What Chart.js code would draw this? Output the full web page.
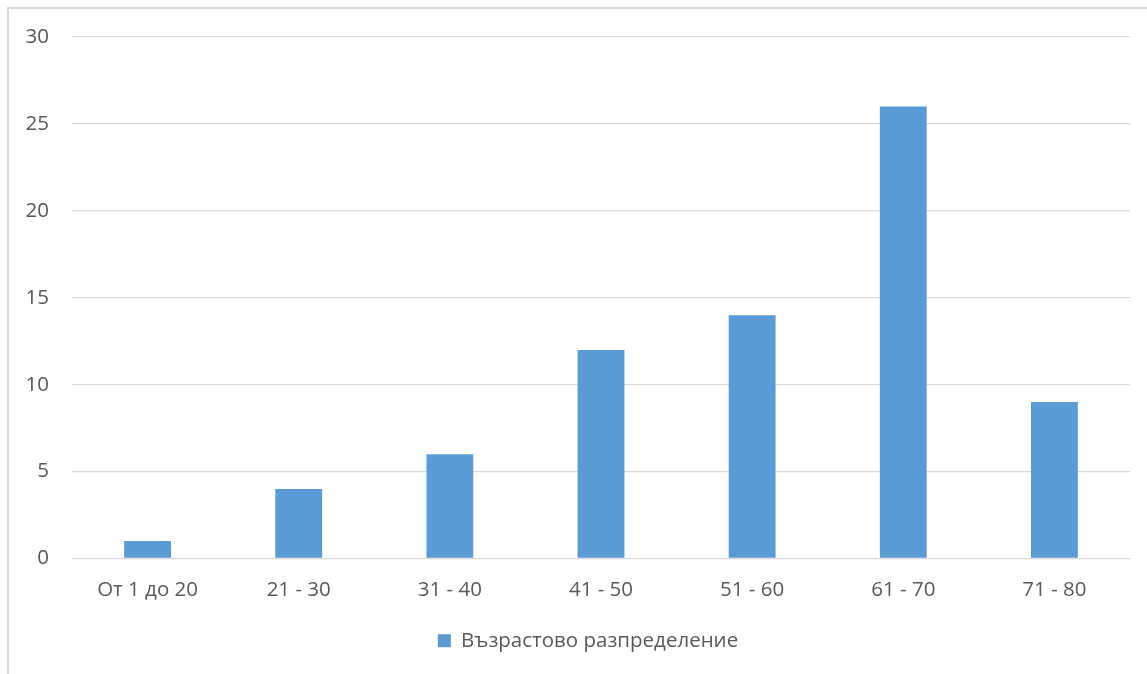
<!DOCTYPE html>
<html lang="bg">
<head>
<meta charset="utf-8">
<title>Възрастово разпределение</title>
<script src="https://cdn.jsdelivr.net/npm/chart.js@4/dist/chart.umd.min.js"></script>
<style>
  html, body { margin: 0; padding: 0; background: #ffffff; overflow: hidden; }
  #frame {
    position: absolute; left: 7px; top: 7px;
    width: 1180px; height: 720px;
    border: 2px solid #d9d9d9; box-sizing: border-box;
  }
  #wrap { position: absolute; left: 0; top: 0; width: 1147px; height: 674px; }
</style>
</head>
<body>
<div id="frame"></div>
<div id="wrap"><canvas id="chart"></canvas></div>
<script>
// Age groups and number of people in each group
const categories = ['От 1 до 20', '21 - 30', '31 - 40', '41 - 50', '51 - 60', '61 - 70', '71 - 80'];
const seriesName = 'Възрастово разпределение';
const counts = [1, 4, 6, 12, 14, 26, 9];
const yTicks = [0, 5, 10, 15, 20, 25, 30];

const textColor = '#595959';
const gridColor = '#d9d9d9';
const barColor = '#5b9bd5';
const fontFamily = '"Open Sans", "Noto Sans", sans-serif';
const fontSize = 20.5;

// Nudge the legend box to the right so it sits under the plot area
const legendShift = {
  id: 'legendShift',
  afterLayout(chart) {
    const lg = chart.legend;
    if (lg) {
      lg.left += 23;
      lg.right += 23;
    }
  }
};

new Chart(document.getElementById('chart'), {
  type: 'bar',
  data: {
    labels: categories,
    datasets: [{
      label: seriesName,
      data: counts,
      backgroundColor: barColor,
      borderWidth: 0,
      categoryPercentage: 1,
      barPercentage: 0.31
    }]
  },
  plugins: [legendShift],
  options: {
    responsive: true,
    maintainAspectRatio: false,
    animation: false,
    layout: { padding: { top: 37, right: 17, bottom: 13, left: 0 } },
    plugins: {
      tooltip: { enabled: false },
      legend: {
        position: 'bottom',
        labels: {
          color: textColor,
          font: { family: fontFamily, size: fontSize },
          boxWidth: 13,
          boxHeight: 13,
          padding: 10
        }
      }
    },
    scales: {
      x: {
        grid: { display: false, drawTicks: false },
        border: { display: false },
        ticks: {
          color: textColor,
          font: { family: fontFamily, size: fontSize },
          padding: 19,
          maxRotation: 0
        },
        afterFit: (scale) => { scale.height = 62; }
      },
      y: {
        min: 0,
        max: 30,
        afterBuildTicks: (scale) => { scale.ticks = yTicks.map(v => ({ value: v })); },
        grid: { color: gridColor, lineWidth: 1.3, drawTicks: false },
        border: { display: false },
        ticks: {
          color: textColor,
          font: { family: fontFamily, size: fontSize },
          padding: 23
        },
        afterFit: (scale) => { scale.width = 72; }
      }
    }
  }
});
</script>
</body>
</html>
